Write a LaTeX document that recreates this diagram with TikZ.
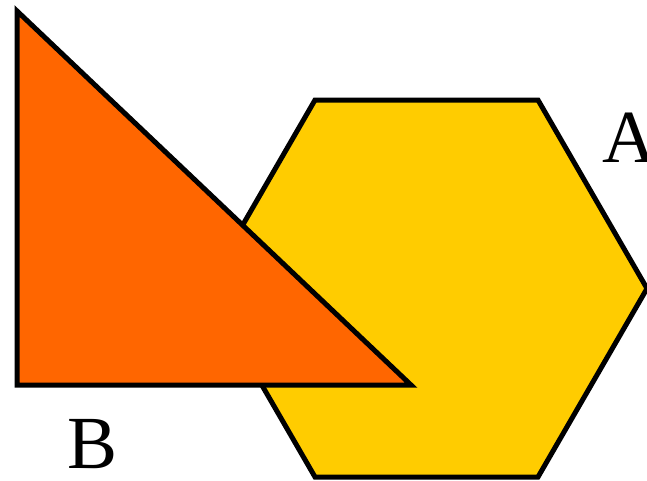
\documentclass[tikz,border=0pt]{standalone}
\usepackage{fontspec}
\setmainfont{Liberation Serif}
\definecolor{shpYellow}{HTML}{FFCC00}
\definecolor{shpOrange}{HTML}{FF6600}
\tikzset{
  shp outline/.style={draw=black, line width=5pt, line join=miter},
  shp label/.style={inner sep=0pt, font=\fontsize{75}{90}\selectfont, text=black},
}
\begin{document}
\begin{tikzpicture}[x=1pt, y=-1pt]
  \useasboundingbox (0,0) rectangle (647,480);
  \clip (0,0) rectangle (647,480);
  % Hexagon A sits behind
  \draw[shp outline, fill=shpYellow] (315,100) -- (538,100) -- (647,288.5)
    -- (538,477) -- (315,477) -- (206,288.5) -- cycle;
  % Right triangle B on top
  \draw[shp outline, fill=shpOrange] (17,11) -- (17,385) -- (411,385) -- cycle;
  % Labels
  \node[shp label, anchor=base west] (labA) at (602,162) {A};
  \node[shp label, anchor=base west] (labB) at (67,468) {B};
\end{tikzpicture}
\end{document}
